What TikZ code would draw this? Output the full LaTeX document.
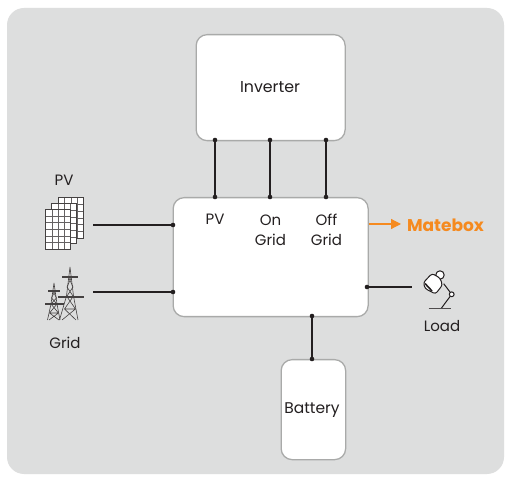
\documentclass[tikz,border=0pt]{standalone}
\usepackage{fontspec}
\setmainfont{Poppins}
\usetikzlibrary{arrows.meta}
\definecolor{bgc}{HTML}{DDDEDE}
\definecolor{edge}{HTML}{A9AAA9}
\definecolor{ink}{HTML}{231F20}
\definecolor{org}{HTML}{F58A1F}
\tikzset{x=1pt,y=-1pt,
 box/.style={draw=edge,line width=1.3pt,fill=white,rounded corners=11pt,inner sep=0pt,anchor=north west},
 lab/.style={font=\fontsize{15}{20}\selectfont,text=ink,inner sep=0pt,align=center},
 wire/.style={draw=ink,line width=1.1pt},
 dotc/.style={fill=ink,draw=none,circle,minimum size=4.6pt,inner sep=0pt},
 pan/.style={draw=ink!70,line width=.5pt},
 twr/.style={draw=ink!85,line width=.6pt},
 arm/.style={draw=ink!85,line width=1.1pt},
}
\begin{document}
\begin{tikzpicture}
\useasboundingbox (0,0) rectangle (512,481);
\fill[white] (0,0) rectangle (512,481);
\fill[bgc,rounded corners=17pt] (7,8) rectangle (504,474);
\node[box,minimum width=149pt,minimum height=106pt] (inv) at (195.5,34) {};
\node[lab,font=\fontsize{15.8}{18}\selectfont] at (270,87.5) {Inverter};
\node[box,minimum width=195pt,minimum height=119pt] (mate) at (172.5,197) {};
\node[box,minimum width=64.5pt,minimum height=100pt] (bat) at (280.5,359) {};
\node[lab,font=\fontsize{15.5}{18}\selectfont] at (312,410) {Battery};
\node[lab] at (215,219.5) {PV};
\node[lab] at (270.5,230) {On\\Grid};
\node[lab] at (326.5,230) {Off\\Grid};
\node[lab] at (64,180.5) {PV};
\node[lab] at (65,342.5) {Grid};
\node[lab] at (442,326.5) {Load};
\node[font=\fontsize{17}{20}\selectfont\bfseries,text=org,inner sep=0pt] (mb) at (445.5,225) {Matebox};
% connectors
\coordinate (i1) at (215,140); \coordinate (m1) at (215,197);
\coordinate (i2) at (270,140); \coordinate (m2) at (270,197);
\coordinate (i3) at (326,140); \coordinate (m3) at (326,197);
\draw[wire] (i1)--(m1); \draw[wire] (i2)--(m2); \draw[wire] (i3)--(m3);
\foreach \n in {i1,m1,i2,m2,i3,m3}{\node[dotc] at (\n){};}
\coordinate (pvd) at (173,225); \coordinate (pve) at (93,225);
\coordinate (gd) at (173,292); \coordinate (ge) at (93,292);
\coordinate (ld) at (367,287); \coordinate (le) at (412,287);
\coordinate (bt) at (312,316); \coordinate (bb) at (312,359);
\draw[wire] (pve)--(pvd); \draw[wire] (ge)--(gd); \draw[wire] (ld)--(le); \draw[wire] (bt)--(bb);
\foreach \n in {pvd,gd,ld,bt,bb}{\node[dotc] at (\n){};}
\coordinate (as) at (369,224); \coordinate (ae) at (401,224);
\draw[draw=org,line width=1.2pt,-{Triangle[length=10pt,width=10pt]}] (as)--(ae);
% PV panels
\foreach \dx/\dy/\h in {58.3/197.7/40.5,51.7/203.5/40,45.7/209.3/40}{
 \begin{scope}[shift={(\dx,\dy)}]
 \fill[white] (0,0) rectangle (25,\h);
 \foreach \i in {1,...,3}{\draw[pan] ({\i*6.25},0)--({\i*6.25},\h);}
 \foreach \j in {1,...,5}{\draw[pan] (0,{\j*\h/6})--(25,{\j*\h/6});}
 \draw[pan,draw=ink!85,line width=.7pt] (0,0) rectangle (25,\h);
 \end{scope}}
% big tower
\draw[twr] (70,267)--(66.5,296)--(59.5,320) (70,267)--(73.5,296)--(78,320);
\draw[twr] (66.5,296)--(75.5,309)--(62,320) (73.5,296)--(64.5,309)--(76,320) (64.5,309)--(75.5,309);
\draw[twr] (68.5,277)--(73,287)--(67,296) (71.5,277)--(67,287)--(73,296);
\draw[arm] (62,277)--(78,277) (58,297)--(84,297);
% small tower
\draw[twr] (54,283)--(51,304)--(47.5,320) (54,283)--(57,304)--(60,320);
\draw[twr] (51,304)--(58.5,313)--(49,320) (57,304)--(49.5,313)--(59,320) (49.5,313)--(58.5,313);
\draw[twr] (53,291)--(56.5,298)--(51,304) (55,291)--(51.5,298)--(57,304);
\draw[arm] (48,291)--(60,291) (45,304)--(64,304);
% lamp
\begin{scope}[draw=ink,line width=1pt,line join=round]
 \draw[fill=white] (440,275) circle (4.2pt);
 \draw (443.7,283.7) -- (451.7,294.3) -- (441,308.7);
 \draw[fill=white] (451.7,294.3) circle (2.4pt);
 \draw[fill=white,rounded corners=2.5pt] (423.5,282.5) -- (432,273.5) -- (440,278) -- (442.5,285) -- (435.5,294) -- (425,288.5) -- cycle;
 \draw[line width=1.6pt] (425,283.5) -- (432,291);
 \draw[line width=1.2pt,draw=ink!80] (428.5,308.7) -- (450.5,308.7);
\end{scope}
\end{tikzpicture}
\end{document}
